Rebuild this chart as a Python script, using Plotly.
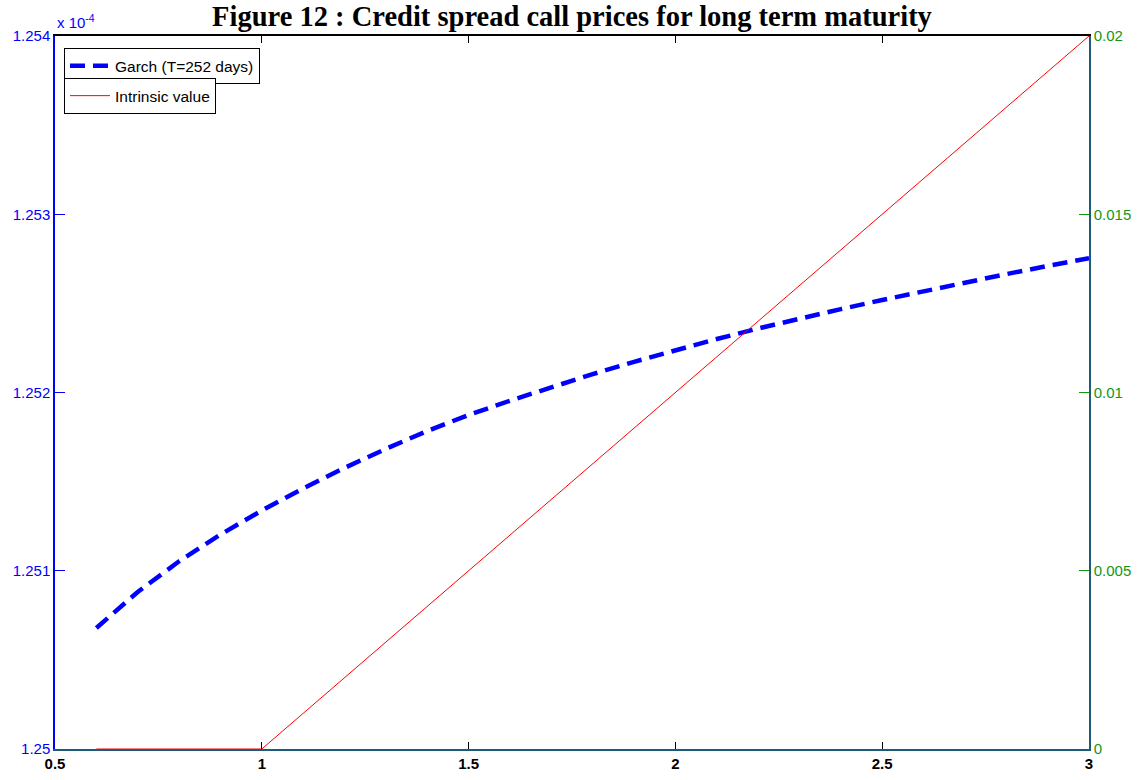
import plotly.graph_objects as go

x_vals = [0.6, 0.7, 0.8, 0.9, 1.0, 1.1, 1.2, 1.3, 1.4, 1.5, 1.6, 1.7, 1.8,
          1.9, 2.0, 2.1, 2.2, 2.3, 2.4, 2.5, 2.6, 2.7, 2.8, 2.9, 3.0]
# Garch prices in units of 1e-4 (left axis)
garch = [1.250679, 1.250881, 1.251053, 1.251203, 1.251338, 1.251462, 1.251577,
         1.251684, 1.251784, 1.251874, 1.251954, 1.252030, 1.252103, 1.252172,
         1.252238, 1.252300, 1.252359, 1.252415, 1.252468, 1.252519, 1.252569,
         1.252617, 1.252664, 1.252710, 1.252754]
# Intrinsic value (right axis)
intrinsic = [0, 0, 0, 0, 0, 0.001, 0.002, 0.003, 0.004, 0.005, 0.006, 0.007,
             0.008, 0.009, 0.010, 0.011, 0.012, 0.013, 0.014, 0.015, 0.016,
             0.017, 0.018, 0.019, 0.020]

x_ticks = [0.5, 1, 1.5, 2, 2.5, 3]
x_ticktext = ["0.5", "1", "1.5", "2", "2.5", "3"]
y1_ticks = [1.25, 1.251, 1.252, 1.253, 1.254]
y1_ticktext = ["1.25", "1.251", "1.252", "1.253", "1.254"]
y2_ticks = [0, 0.005, 0.01, 0.015, 0.02]
y2_ticktext = ["0", "0.005", "0.01", "0.015", "0.02"]

BLUE = "#0000ff"
GREEN = "#149614"
AXTEAL = "#1f5a7a"
FONT = "Liberation Sans, Arial, sans-serif"

fig = go.Figure()
fig.add_trace(go.Scatter(
    x=x_vals, y=garch, mode="lines", name="Garch (T=252 days)",
    line=dict(color=BLUE, width=4.5, dash="15px,8px"),
    xaxis="x", yaxis="y", legend="legend"))
fig.add_trace(go.Scatter(
    x=x_vals, y=intrinsic, mode="lines", name="Intrinsic value",
    line=dict(color="#ff0000", width=1),
    xaxis="x", yaxis="y2", legend="legend2"))
# invisible trace to materialise the top (mirror) axis
fig.add_trace(go.Scatter(
    x=[x_ticks[0], x_ticks[-1]], y=[y1_ticks[0], y1_ticks[0]], mode="lines",
    line=dict(width=0), opacity=0, showlegend=False, hoverinfo="skip",
    xaxis="x2", yaxis="y"))

fig.update_layout(
    width=1144, height=780,
    margin=dict(l=55, r=55, t=36, b=31),
    paper_bgcolor="white", plot_bgcolor="white",
    font=dict(family=FONT, size=15, color="black"),
    title=dict(text="<b>Figure 12 : Credit spread call prices for long term maturity</b>",
               x=0.5, xanchor="center", y=0.9795, yanchor="middle",
               font=dict(family="Liberation Serif, Times New Roman, serif", size=28.5, color="black")),
    xaxis=dict(range=[0.5, 3], tickvals=x_ticks, ticktext=x_ticktext, automargin=False,
               showgrid=False, zeroline=False, showline=True, linecolor=AXTEAL, linewidth=1.5,
               ticks="inside", ticklen=7, tickcolor="black",
               tickfont=dict(family=FONT, size=15, color="black", weight="bold")),
    xaxis2=dict(range=[0.5, 3], tickvals=x_ticks, overlaying="x", side="top", anchor="y",
                automargin=False,
                showgrid=False, zeroline=False, showline=True, linecolor="black", linewidth=1.5,
                ticks="inside", ticklen=7, tickcolor="black", showticklabels=False),
    yaxis=dict(range=[1.25, 1.254], tickvals=y1_ticks, ticktext=y1_ticktext, automargin=False,
               showgrid=False, zeroline=False, showline=True, linecolor=BLUE, linewidth=1.5,
               ticks="inside", ticklen=10, tickcolor=BLUE,
               tickfont=dict(family=FONT, size=15, color=BLUE)),
    yaxis2=dict(range=[0, 0.02], tickvals=y2_ticks, ticktext=y2_ticktext, automargin=False,
                overlaying="y", side="right", anchor="x",
                showgrid=False, zeroline=False, showline=True, linecolor=AXTEAL, linewidth=1.5,
                ticks="inside", ticklen=10, tickcolor=GREEN,
                tickfont=dict(family=FONT, size=15, color=GREEN)),
    legend=dict(x=0.0087, y=0.983, xanchor="left", yanchor="top",
                bgcolor="white", bordercolor="black", borderwidth=1,
                font=dict(family=FONT, size=15.5, color="black"),
                tracegroupgap=0, itemwidth=40),
    legend2=dict(x=0.0087, y=0.941, xanchor="left", yanchor="top",
                 bgcolor="white", bordercolor="black", borderwidth=1,
                 font=dict(family=FONT, size=15.5, color="black"),
                 tracegroupgap=0, itemwidth=40),
    annotations=[dict(text="x 10<sup>-4</sup>", xref="paper", yref="paper",
                      x=0.0, y=1.0, xanchor="left", yanchor="bottom", yshift=3,
                      showarrow=False, font=dict(family=FONT, size=15, color=BLUE))],
)

fig.write_html("out.html")
